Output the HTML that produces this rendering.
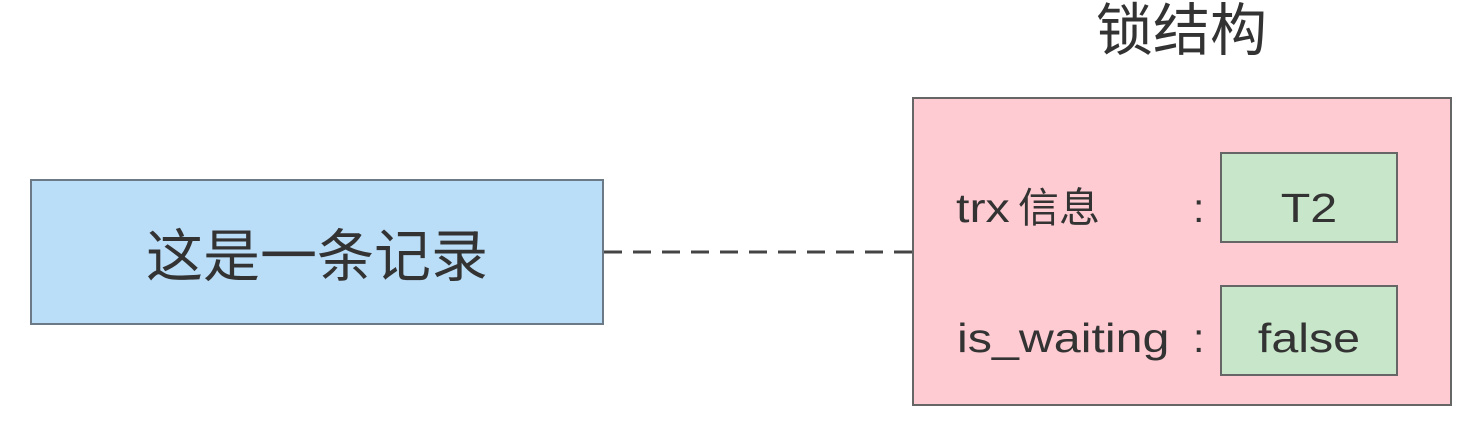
<!DOCTYPE html>
<html><head><meta charset="utf-8"><style>
body{margin:0;width:1483px;height:429px;background:#fff;overflow:hidden;position:relative;font-family:"Liberation Sans","Noto Sans CJK SC",sans-serif;color:#333}
div{position:absolute;box-sizing:border-box}
.t{white-space:nowrap;line-height:1}
.sx{transform:scaleX(1.18);transform-origin:left center}
.sc{transform:scaleX(1.18);transform-origin:center center}
</style></head><body>
<div class="t" style="left:1096px;top:3px;font-size:57px;">锁结构</div>
<div style="left:30px;top:179px;width:574px;height:146px;background:#bbdef8;border:2px solid #6b7a86;"></div>
<div class="t" style="left:30px;top:229px;width:574px;text-align:center;font-size:57px;">这是一条记录</div>
<svg style="position:absolute;left:0;top:0" width="1483" height="429"><line x1="604" y1="252" x2="912" y2="252" stroke="#444" stroke-width="3" stroke-dasharray="18 11"/></svg>
<div style="left:912px;top:97px;width:540px;height:309px;background:#ffcbd2;border:2px solid #666;"></div>
<div style="left:1220px;top:152px;width:178px;height:91px;background:#c8e6c9;border:2px solid #666;"></div>
<div style="left:1220px;top:285px;width:178px;height:91px;background:#c8e6c9;border:2px solid #666;"></div>
<div class="t sx" style="left:956px;top:188px;font-size:41px;">trx</div>
<div class="t" style="left:1018px;top:188px;font-size:41px;">信息</div>
<div class="t" style="left:1193px;top:188px;font-size:41px;">:</div>
<div class="t sc" style="left:1220px;top:188px;width:178px;text-align:center;font-size:41px;">T2</div>
<div class="t sx" style="left:957px;top:318px;font-size:41px;">is_waiting</div>
<div class="t" style="left:1193px;top:318px;font-size:41px;">:</div>
<div class="t sc" style="left:1220px;top:318px;width:178px;text-align:center;font-size:41px;">false</div>
</body></html>
